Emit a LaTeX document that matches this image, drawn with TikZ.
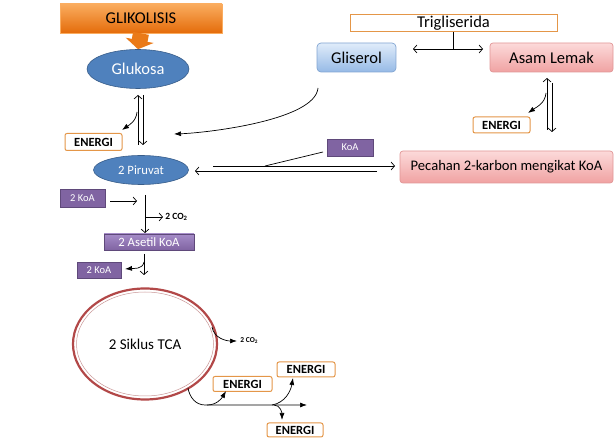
\documentclass[tikz,border=0pt]{standalone}
\usepackage{fontspec}
\setmainfont{Carlito}
\usetikzlibrary{arrows,arrows.meta,shapes.geometric}
\definecolor{glik_top}{RGB}{250,172,95}
\definecolor{glik_bot}{RGB}{228,108,10}
\definecolor{glik_arrow}{RGB}{234,122,24}
\definecolor{ell_blue}{RGB}{79,129,189}
\definecolor{ell_line}{RGB}{56,93,138}
\definecolor{gl_top}{RGB}{224,236,250}
\definecolor{gl_bot}{RGB}{150,186,230}
\definecolor{gl_line}{RGB}{130,165,210}
\definecolor{pk_top}{RGB}{252,218,218}
\definecolor{pk_bot}{RGB}{240,162,162}
\definecolor{pk_line}{RGB}{225,150,150}
\definecolor{koa_purple}{RGB}{128,100,162}
\definecolor{koa_top}{RGB}{165,140,200}
\definecolor{koa_line}{RGB}{95,73,122}
\definecolor{en_orange}{RGB}{228,150,72}
\definecolor{tca_red}{RGB}{178,72,72}
\definecolor{tca_thin}{RGB}{200,150,150}
\tikzstyle{glik}=[rectangle,top color=glik_top,bottom color=glik_bot,draw=glik_top,
  inner sep=0pt,minimum width=162pt,minimum height=29pt,font=\fontsize{16.5}{18}\selectfont]
\tikzstyle{bn}=[ellipse,fill=ell_blue,draw=ell_line,line width=0.6pt,inner sep=0pt,text=white]
\tikzstyle{en}=[rectangle,rounded corners=2pt,fill=white,draw=en_orange,line width=1pt,
  inner sep=0pt,minimum width=57pt,minimum height=17pt,font=\fontsize{12.5}{14}\selectfont\bfseries]
\tikzstyle{tg}=[rectangle,fill=white,draw=en_orange,line width=1pt,inner sep=0pt,
  minimum width=207pt,minimum height=17pt,font=\fontsize{16.5}{18}\selectfont]
\tikzstyle{bx}=[rectangle,rounded corners=4pt,top color=gl_top,bottom color=gl_bot,draw=gl_line,
  inner sep=0pt,minimum height=29pt,font=\fontsize{16.5}{18}\selectfont]
\tikzstyle{pk}=[rectangle,rounded corners=3pt,top color=pk_top,bottom color=pk_bot,draw=pk_line,
  inner sep=0pt,minimum height=29pt]
\tikzstyle{koa}=[rectangle,fill=koa_purple,draw=koa_line,line width=0.6pt,inner sep=0pt,
  text=white,font=\fontsize{10.5}{12}\selectfont]
\tikzstyle{tca}=[ellipse,draw=tca_red,line width=2.2pt,inner sep=0pt,
  minimum width=144pt,minimum height=111pt,font=\fontsize{15}{17}\selectfont]
\tikzstyle{tcain}=[ellipse,draw=tca_thin,line width=0.5pt,inner sep=0pt,
  minimum width=137pt,minimum height=104pt]
\tikzstyle{co}=[inner sep=0pt,anchor=west,font=\fontsize{9.5}{11}\selectfont\bfseries]
\tikzstyle{none}=[inner sep=0pt]
\tikzstyle{fa}=[-{Latex[length=7pt,width=5pt]}]

\begin{document}
\begin{tikzpicture}[x=1pt,y=1pt,line width=0.7pt,>={Straight Barb[length=3.5pt,width=8pt]}]
	\useasboundingbox (0,0) rectangle (616,439);
	\node [style=glik] (0) at (141,420.5) {GLIKOLISIS};
	\node [style=bn,minimum width=102pt,minimum height=39pt,font=\fontsize{16.5}{18}\selectfont] (1) at (138,370) {Glukosa};
	\node [style=en] (2) at (93.5,297) {ENERGI};
	\node [style=bn,minimum width=95pt,minimum height=29pt,font=\fontsize{12.7}{14}\selectfont] (3) at (141,269) {2 Piruvat};
	\node [style=tg] (4) at (453.5,415.5) {Trigliserida};
	\node [style=bx,minimum width=79pt] (5) at (356.5,381.5) {Gliserol};
	\node [style=pk,minimum width=123pt,font=\fontsize{16.5}{18}\selectfont] (6) at (551.5,381.5) {Asam Lemak};
	\node [style=en,minimum height=16pt] (7) at (501.5,314) {ENERGI};
	\node [style=pk,minimum width=213pt,minimum height=32pt,font=\fontsize{14.6}{16}\selectfont] (8) at (506.5,272) {Pecahan 2-karbon mengikat KoA};
	\node [style=koa,minimum width=46pt,minimum height=17pt] (9) at (350,291.5) {KoA};
	\node [style=koa,minimum width=45pt,minimum height=18pt] (10) at (82.5,241) {2 KoA};
	\node [style=koa,top color=koa_top,bottom color=koa_purple,minimum width=90pt,minimum height=16pt,font=\fontsize{12.7}{14}\selectfont] (11) at (149,197) {2 Asetil KoA};
	\node [style=koa,minimum width=44pt,minimum height=16pt] (12) at (99,169) {2 KoA};
	\node [style=tca] (13) at (145,95) {2 Siklus TCA};
	\node [style=tcain] (14) at (145,95) {};
	\node [style=en,minimum width=59pt,minimum height=15pt] (15) at (242.5,55) {ENERGI};
	\node [style=en,minimum width=58pt,minimum height=15pt] (16) at (306,69.5) {ENERGI};
	\node [style=en,minimum width=56pt,minimum height=14pt] (17) at (295,9) {ENERGI};
	\node [style=co] (18) at (165,222) {2 CO\textsubscript{2}};
	\node [style=co,font=\fontsize{7.5}{9}\selectfont\bfseries] (19) at (240,98) {2 CO\textsubscript{2}};
	% arrow ends
	\node [style=none] (20) at (138,294) {};
	\node [style=none] (21) at (138,344) {};
	\node [style=none] (22) at (143,344) {};
	\node [style=none] (23) at (143,294) {};
	\node [style=none] (24) at (137,327) {};
	\node [style=none] (25) at (122,309) {};
	\node [style=none] (26) at (318,351) {};
	\node [style=none] (27) at (174,305) {};
	\node [style=none] (28) at (213,273) {};
	\node [style=none] (29) at (395,273) {};
	\node [style=none] (30) at (377,268) {};
	\node [style=none] (31) at (195,268) {};
	\node [style=none] (32) at (323,287) {};
	\node [style=none] (33) at (265,273) {};
	\node [style=none] (34) at (453.5,390) {};
	\node [style=none] (35) at (413,390) {};
	\node [style=none] (36) at (483,390) {};
	\node [style=none] (37) at (547,309) {};
	\node [style=none] (38) at (547,361) {};
	\node [style=none] (39) at (552,356) {};
	\node [style=none] (40) at (552,307) {};
	\node [style=none] (41) at (546,346) {};
	\node [style=none] (42) at (528,326) {};
	\node [style=none] (43) at (110,238) {};
	\node [style=none] (44) at (137,238) {};
	\node [style=none] (45) at (145,244) {};
	\node [style=none] (46) at (145,206) {};
	\node [style=none] (47) at (145,222) {};
	\node [style=none] (48) at (163,222) {};
	\node [style=none] (49) at (144,185) {};
	\node [style=none] (50) at (144,164) {};
	\node [style=none] (51) at (144,177) {};
	\node [style=none] (52) at (125,170) {};
	\node [style=none] (53) at (212,112) {};
	\node [style=none] (54) at (237,98) {};
	\node [style=none] (55) at (188,51) {};
	\node [style=none] (56) at (205,34) {};
	\node [style=none] (57) at (307,34) {};
	\node [style=none] (58) at (207,34) {};
	\node [style=none] (59) at (226,48) {};
	\node [style=none] (60) at (272,34) {};
	\node [style=none] (61) at (293,61) {};
	\node [style=none] (62) at (274,34) {};
	\node [style=none] (63) at (282,19) {};
	% connectors
	\draw [line width=16pt,draw=glik_arrow,-{Triangle[length=9pt,width=28pt]}] (0.south) to (1.north);
	\draw [->] (20.center) to (21.center);
	\draw [->] (22.center) to (23.center);
	\draw [style=fa] (24.center) to [out=-95,in=35] (25.center);
	\draw [style=fa] (26.center) to [out=-95,in=2,looseness=0.55] (27.center);
	\draw [->] (28.center) to (29.center);
	\draw [->] (30.center) to (31.center);
	\draw (32.center) to (33.center);
	\draw (4.south) to (34.center);
	\draw [->] (34.center) to (35.center);
	\draw [->] (34.center) to (36.center);
	\draw [->] (37.center) to (38.center);
	\draw [->] (39.center) to (40.center);
	\draw [style=fa] (41.center) to [out=-95,in=35] (42.center);
	\draw [->] (43.center) to (44.center);
	\draw [->] (45.center) to (46.center);
	\draw [->] (47.center) to (48.center);
	\draw [->] (49.center) to (50.center);
	\draw [style=fa] (51.center) to [out=-100,in=5] (52.center);
	\draw [style=fa] (53.center) to [out=-80,in=180] (54.center);
	\draw [style=fa] (55.center) to [out=-80,in=180] (56.center) to (57.center);
	\draw [style=fa] (58.center) to [out=0,in=-120] (59.center);
	\draw [style=fa] (60.center) to [out=10,in=-100] (61.center);
	\draw [style=fa] (62.center) to [out=0,in=90] (63.center);
\end{tikzpicture}
\end{document}
